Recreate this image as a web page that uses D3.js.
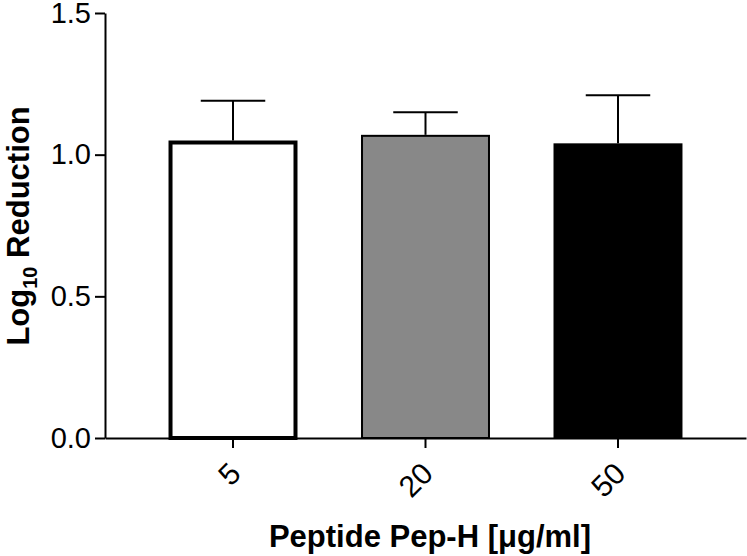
<!DOCTYPE html>
<html>
<head>
<meta charset="utf-8">
<script src="https://cdn.jsdelivr.net/npm/d3@7"></script>
<style>
  body { margin: 0; background: #fff; }
  text { font-family: "Liberation Sans", Arial, sans-serif; }
</style>
</head>
<body>
<svg id="chart" width="747" height="556"></svg>
<script>
const categories = ['5', '20', '50'];
const means = [1.05, 1.07, 1.04];
const errors = [0.14, 0.08, 0.17];
const yTicks = [0.0, 0.5, 1.0, 1.5];

const fills = ['#ffffff', '#888888', '#000000'];
const strokeWidths = [4, 2, 2];

const svg = d3.select('#chart');

const x = d3.scaleBand()
  .domain(categories)
  .range([105, 746])
  .paddingInner(0.33)
  .paddingOuter(0.33)
  ;

const y = d3.scaleLinear()
  .domain([0, 1.5])
  .range([438, 13])
  ;

const data = categories.map((c, i) => ({ cat: c, mean: means[i], err: errors[i], i }));

// error bars (upper only), drawn under the bars
const eb = svg.append('g');
data.forEach(d => {
  const cx = x(d.cat) + x.bandwidth() / 2;
  eb.append('line')
    .attr('x1', cx).attr('x2', cx)
    .attr('y1', y(d.mean)).attr('y2', y(d.mean + d.err))
    .attr('stroke', '#000').attr('stroke-width', 2);
  eb.append('line')
    .attr('x1', cx - x.bandwidth() / 4).attr('x2', cx + x.bandwidth() / 4)
    .attr('y1', y(d.mean + d.err)).attr('y2', y(d.mean + d.err))
    .attr('stroke', '#000').attr('stroke-width', 2);
});

svg.append('g')
  .selectAll('rect')
  .data(data)
  .join('rect')
  .attr('x', d => x(d.cat) + strokeWidths[d.i] / 2)
  .attr('y', d => y(d.mean) + strokeWidths[d.i] / 2)
  .attr('width', d => x.bandwidth() - strokeWidths[d.i])
  .attr('height', d => y(0) - y(d.mean) - strokeWidths[d.i] / 2)
  .attr('fill', d => fills[d.i])
  .attr('stroke', '#000')
  .attr('stroke-width', d => strokeWidths[d.i])
  ;

// y axis
const yAxis = svg.append('g')
  .attr('transform', 'translate(105,0)')
  .call(d3.axisLeft(y).tickValues(yTicks).tickFormat(d3.format('.1f')).tickSize(10).tickSizeOuter(0));
yAxis.select('.domain').attr('stroke-width', 2);
yAxis.selectAll('.tick line').attr('stroke-width', 2);
yAxis.selectAll('.tick text')
  .attr('font-size', 29)
  .attr('fill', '#000')
  .attr('x', -14)
  .style('font-family', '"Liberation Sans", Arial, sans-serif');

// x axis
const xAxis = svg.append('g')
  .attr('transform', 'translate(0,438)')
  .call(d3.axisBottom(x).tickSize(10).tickSizeOuter(0));
xAxis.select('.domain').attr('stroke-width', 2);
xAxis.selectAll('.tick line').attr('stroke-width', 2);
xAxis.selectAll('.tick text')
  .attr('font-size', 30)
  .attr('fill', '#000')
  .attr('text-anchor', 'end')
  .attr('dy', '0.35em')
  .attr('transform', 'translate(2,30) rotate(-45)')
  .attr('y', 0)
  .style('font-family', '"Liberation Sans", Arial, sans-serif');

// axis titles
svg.append('text')
  .attr('x', 430)
  .attr('y', 547)
  .attr('text-anchor', 'middle')
  .attr('font-size', 31)
  .attr('font-weight', 'bold')
  .text('Peptide Pep-H [\u03bcg/ml]');

const yt = svg.append('text')
  .attr('transform', 'translate(29,226) rotate(-90)')
  .attr('text-anchor', 'middle')
  .attr('font-size', 31)
  .attr('font-weight', 'bold');
yt.append('tspan').text('Log');
yt.append('tspan').attr('font-size', 20).attr('dy', 8).text('10');
yt.append('tspan').attr('dy', -8).text(' Reduction');
</script>
</body>
</html>
